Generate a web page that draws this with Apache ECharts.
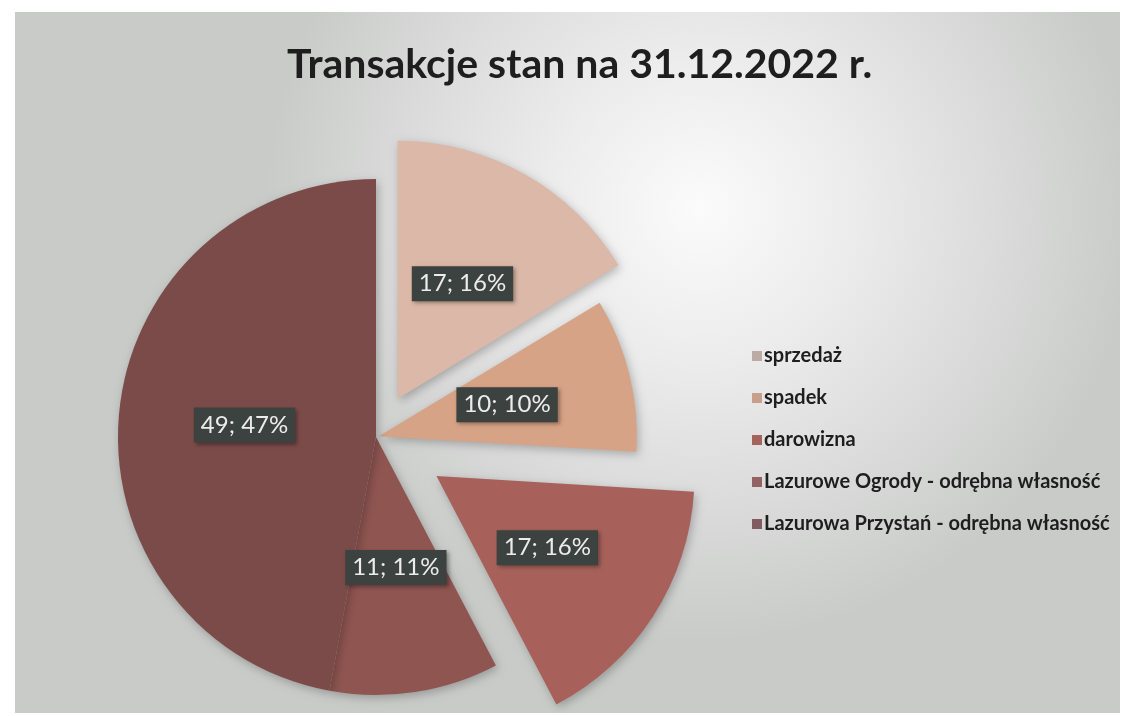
<!DOCTYPE html>
<html>
<head>
<meta charset="utf-8">
<script src="https://cdn.jsdelivr.net/npm/echarts@6/dist/echarts.min.js"></script>
<style>
  html, body { margin: 0; padding: 0; background: #fff; }
  #chart { width: 1128px; height: 716px; }
</style>
</head>
<body>
<div id="chart"></div>
<script>
const categories = [
  'sprzedaż',
  'spadek',
  'darowizna',
  'Lazurowe Ogrody - odrębna własność',
  'Lazurowa Przystań - odrębna własność'
];
const values = [17, 10, 17, 11, 49];
const colors = ['#dbb8a7', '#d7a386', '#a7615a', '#8f5551', '#7b4b49'];
const legendColors = ['#bcaba4', '#c6a08b', '#a5635d', '#936265', '#805c60'];
// how far each slice is pulled out of the pie
const explode = [44, 3, 72, 0, 0];

const chart = echarts.init(document.getElementById('chart'));

// one series per slice so every slice can have its own pull-out distance
const series = categories.map((name, i) => ({
  type: 'pie',
  center: [376, 437],
  radius: 258,
  startAngle: 90,
  clockwise: true,
  percentPrecision: 0,
  selectedMode: 'multiple',
  selectedOffset: explode[i],
  animation: false,
  silent: true,
  emphasis: { disabled: true },
  labelLine: { show: false },
  data: categories.map((n, j) => {
    if (j !== i) {
      return {
        name: n,
        value: values[j],
        itemStyle: { color: 'rgba(0,0,0,0)' },
        label: { show: false }
      };
    }
    return {
      name: n,
      value: values[j],
      selected: explode[j] > 0,
      itemStyle: {
        color: colors[j],
        shadowColor: 'rgba(0,0,0,0.25)',
        shadowBlur: 10,
        shadowOffsetX: 2,
        shadowOffsetY: 3
      },
      select: { itemStyle: { color: colors[j] } },
      label: {
        show: true,
        position: 'inside',
        formatter: '{c}; {d}%',
        color: '#ececec',
        fontFamily: 'Lato',
        fontSize: 24,
        backgroundColor: '#3c423f',
        padding: [6, 7, 5, 7],
        shadowColor: 'rgba(0,0,0,0.35)',
        shadowBlur: 4,
        shadowOffsetX: 2,
        shadowOffsetY: 2
      }
    };
  })
}));

chart.setOption({
  backgroundColor: '#ffffff',
  graphic: [{
    type: 'rect',
    left: 15,
    top: 12,
    z: -10,
    shape: { width: 1105, height: 701 },
    style: {
      fill: {
        type: 'radial',
        x: 0.62, y: 0.28, r: 0.62,
        colorStops: [
          { offset: 0, color: '#fbfbfb' },
          { offset: 0.35, color: '#ececec' },
          { offset: 1, color: '#c9cbc9' }
        ]
      }
    }
  }],
  title: {
    text: 'Transakcje stan na 31.12.2022 r.',
    left: 282,
    top: 39,
    textStyle: {
      fontFamily: 'Lato',
      fontWeight: 'bold',
      fontSize: 41,
      color: '#1e1e1e'
    }
  },
  legend: {
    orient: 'vertical',
    left: 747,
    top: 341,
    icon: 'rect',
    itemWidth: 10,
    itemHeight: 10,
    itemGap: 22,
    selectedMode: false,
    textStyle: {
      fontFamily: 'Lato',
      fontWeight: 'bold',
      fontSize: 20,
      lineHeight: 20,
      color: '#1e1e1e',
      padding: [0, 0, 0, -3]
    },
    data: categories.map((n, i) => ({ name: n, itemStyle: { color: legendColors[i] } }))
  },
  series: series
});
</script>
</body>
</html>
